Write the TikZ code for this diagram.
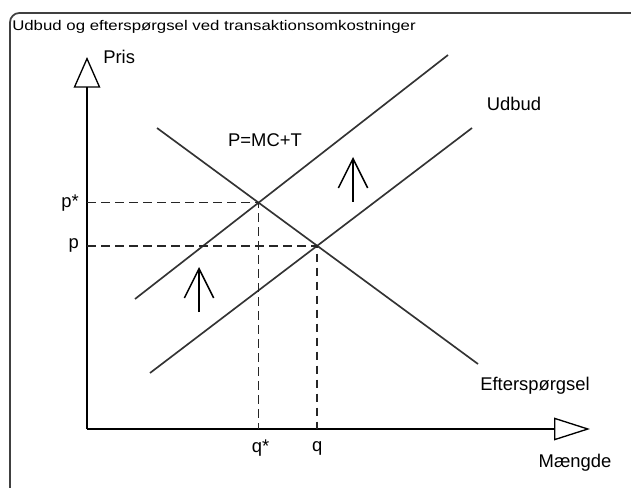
\documentclass[tikz,border=0pt]{standalone}
\usepackage{fontspec}
\setmainfont{Liberation Sans}
\usetikzlibrary{arrows.meta,intersections,calc}
\begin{document}
\begin{tikzpicture}[x=0.75pt,y=-0.75pt,
  curve/.style={line width=1.25pt, draw=black!80},
  axis/.style={line width=1.2pt, draw=black},
  guide/.style={line width=1.15pt, draw=black!85, dash pattern=on 6.5pt off 4pt},
  shiftarrow/.style={line width=1.1pt, -{Straight Barb[length=22pt,width=22pt,line width=1.1pt]}},
  lbl/.style={font=\fontsize{13.8}{16}\selectfont, inner sep=0pt}]
\useasboundingbox (0,0) rectangle (631,488);
% frame
\draw[line width=1.3pt, draw=black!75, rounded corners=7pt] (10,530) -- (10,13) -- (680,13);
\node[anchor=west, inner sep=0pt] (title) at (12,27) {\scalebox{1.2}[1]{\fontsize{10.5}{12}\selectfont Udbud og efterspørgsel ved transaktionsomkostninger}};
% axes
\coordinate (O) at (87,429);
\coordinate (ytip) at (87,57);
\coordinate (xtip) at (590,429);
\draw[axis, -{Triangle[open,length=23pt,width=20pt,line width=1pt]}] (O) -- (ytip);
\draw[axis, -{Triangle[open,length=27pt,width=17pt,line width=1pt]}] (O) -- (xtip);
% curves
\coordinate (s1a) at (135,299);
\coordinate (s1b) at (448,55);
\coordinate (s0a) at (150,373);
\coordinate (s0b) at (472,128);
\coordinate (da) at (157,128);
\coordinate (db) at (478,364);
\draw[curve, name path=s1] (s1a) -- (s1b);
\draw[curve, name path=s0] (s0a) -- (s0b);
\draw[curve, name path=d] (da) -- (db);
\path[name intersections={of=s1 and d, by=E1}];
\path[name intersections={of=s0 and d, by=E2}];
\coordinate (pstar) at (E1 -| O);
\coordinate (pzero) at (E2 -| O);
\coordinate (qstar) at (E1 |- O);
\coordinate (qzero) at (E2 |- O);
\draw[guide] (pstar) -- (E1) -- (qstar);
\draw[guide] (pzero) -- (E2) -- (qzero);
% shift arrows
\coordinate (a1s) at (199,312);
\coordinate (a1t) at (199,267);
\coordinate (a2s) at (353,202);
\coordinate (a2t) at (353,157);
\draw[shiftarrow] (a1s) -- (a1t);
\draw[shiftarrow] (a2s) -- (a2t);
% labels
\node[lbl, anchor=west] (pris) at (103,57) {Pris};
\node[lbl] (maengde) at (575,463) {Mængde};
\node[lbl] (udbud) at (514,104) {Udbud};
\node[lbl] (pmct) at (265,140) {P=MC+T};
\node[lbl] (eft) at (535,386) {Efterspørgsel};
\node[lbl, anchor=east] (lpstar) at ($(pstar)+(-8,0)$) {p*};
\node[lbl, anchor=east] (lp) at ($(pzero)+(-8,0)$) {p};
\node[lbl] (lqstar) at ($(qstar)+(2,19)$) {q*};
\node[lbl] (lq) at ($(qzero)+(0,19)$) {q};
\end{tikzpicture}
\end{document}
